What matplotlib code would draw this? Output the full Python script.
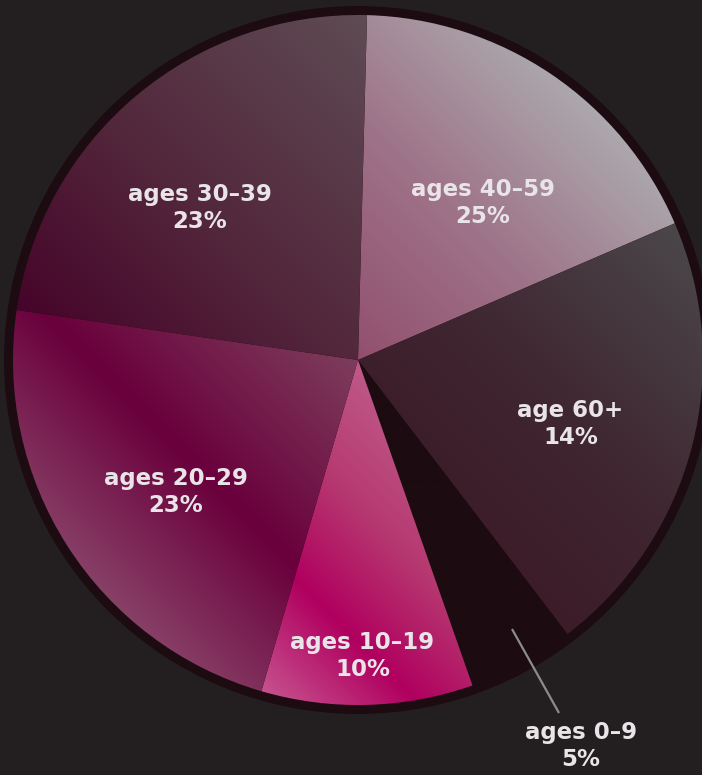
import numpy as np
import matplotlib
matplotlib.use("Agg")
import matplotlib.pyplot as plt
from matplotlib.colors import to_rgb

# data, clockwise from the top (shares as drawn, labels as printed)
groups = ["ages 40–59", "age 60+", "ages 0–9", "ages 10–19", "ages 20–29", "ages 30–39"]
shares = [18.1, 21.1, 5.0, 9.9, 22.8, 23.1]
pct_labels = ["25%", "14%", "5%", "10%", "23%", "23%"]

# gradient stops along the NE diagonal, (position, colour) per slice
grad_stops = [
    [(-0.1, "#90486a"), (0.5, "#9e7388"), (1.0, "#aca8ad")],
    [(-0.3, "#3b1826"), (0.3, "#3f2630"), (0.9, "#4a4549")],
    [(-1.5, "#1c0b10"), (1.5, "#1c0b10")],
    [(-0.9, "#c85892"), (-0.58, "#b0005f"), (-0.3, "#b63870"), (0.05, "#c0608c")],
    [(-1.1, "#8e4e70"), (-0.55, "#6a003c"), (0.0, "#7d3e5c")],
    [(-0.6, "#46042a"), (0.0, "#53283c"), (0.75, "#5f4d55")],
]

# label centres, in pie radii
label_xy = [(0.362, 0.455), (0.616, -0.186), (0.646, -1.118), (0.013, -0.858),
            (-0.528, -0.383), (-0.458, 0.441)]

bg = "#231f20"
R = 345.0  # pie radius in px
W, H = 702, 775
cx, cy = 358, 360

fig = plt.figure(figsize=(W / 100, H / 100), dpi=100, facecolor=bg)
ax = fig.add_axes([0, 0, 1, 1])
ax.set_facecolor(bg)

# dark rim behind the pie
rim = plt.Circle((0, 0), 1.024, color="#1c0b10", zorder=0)
ax.add_patch(rim)

wedges, _ = ax.pie(shares, startangle=88.5, counterclock=False, radius=1,
                   colors=["none"] * len(shares), wedgeprops=dict(linewidth=0))

n = 600
xs = np.linspace(-1.05, 1.05, n)
X, Y = np.meshgrid(xs, xs[::-1])
S = (X + Y) / np.sqrt(2)

for w, stops in zip(wedges, grad_stops):
    pos = [p for p, c in stops]
    cols = np.array([to_rgb(c) for p, c in stops])
    img = np.dstack([np.interp(S, pos, cols[:, k]) for k in range(3)])
    im = ax.imshow(img, extent=(-1.05, 1.05, -1.05, 1.05), zorder=1,
                   interpolation="bilinear")
    im.set_clip_path(w)

txt_color = "#e8e4e8"
for name, pct, (lx, ly) in zip(groups, pct_labels, label_xy):
    ax.text(lx, ly, name + "\n" + pct, ha="center", va="center", color=txt_color,
            fontsize=16.5, fontweight="bold", family="DejaVu Sans", linespacing=1.22,
            zorder=3)

# leader line for the small slice
ax.plot([(512 - cx) / R, (559 - cx) / R], [(cy - 629) / R, (cy - 713) / R],
        color="#8c8c8c", lw=1.6, zorder=3, solid_capstyle="butt")

ax.set_xlim(-cx / R, (W - cx) / R)
ax.set_ylim((cy - H) / R, cy / R)
ax.set_aspect("auto")
ax.axis("off")

fig.savefig("out.png", dpi=100, facecolor=bg)
